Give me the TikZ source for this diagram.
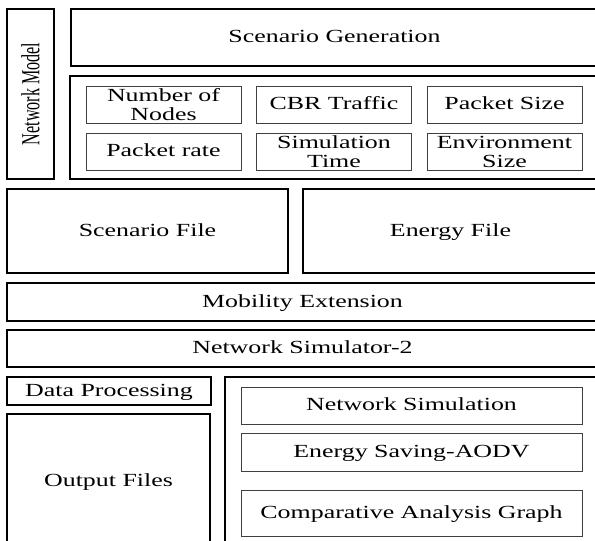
\documentclass[tikz,border=0pt]{standalone}
\usepackage{fontspec}
\setmainfont{Liberation Serif}
% wide serif used for all horizontal labels
\newfontfamily\widefont{Liberation Serif}[FakeStretch=1.4]
% narrow serif for the rotated side label
\newfontfamily\narrowfont{Liberation Serif}[FakeStretch=0.62]
\begin{document}
\begin{tikzpicture}[x=1pt,y=-1pt,
  label font/.style={font=\widefont\fontsize{18.5}{19}\selectfont, align=center},
  oneline/.style={text height=14pt, text depth=4pt},
  bigbox/.style={draw=black, line width=1.6pt, inner sep=0pt, label font, oneline},
  smallbox/.style={draw=black!75, line width=0.8pt, inner sep=0pt, label font,
    minimum width=155pt, minimum height=37pt},
  innerbox/.style={draw=black!75, line width=0.8pt, inner sep=0pt, label font, oneline,
    minimum width=341pt}]
\useasboundingbox (0,0) rectangle (595,541);
\clip (0,0) rectangle (595,541);

% network model column
\node[bigbox, minimum width=47pt, minimum height=170pt] (model) at (30.5,94) {};
\node[rotate=90, font=\narrowfont\fontsize{26}{26}\selectfont] (modeltxt) at (model.center) {Network Model};

% scenario generation and its parameters
\node[bigbox, minimum width=527pt, minimum height=57pt] (gen) at (334.5,37.5) {Scenario Generation};
\node[bigbox, minimum width=528pt, minimum height=103pt] (params) at (334,127.5) {};
\node[smallbox] (nodes) at (163.5,104.5) {Number of\\Nodes};
\node[smallbox, oneline] (cbr)   at (334,104.5)   {CBR Traffic};
\node[smallbox, oneline] (psize) at (504.5,104.5) {Packet Size};
\node[smallbox, oneline] (prate) at (163.5,151.5) {Packet rate};
\node[smallbox] (stime) at (334,151.5)   {Simulation\\Time};
\node[smallbox] (env)   at (504.5,151.5) {Environment\\Size};

% generated files
\node[bigbox, minimum width=281pt, minimum height=84pt] (scfile) at (147.5,231) {Scenario File};
\node[bigbox, minimum width=295pt, minimum height=84pt] (enfile) at (450.5,231) {Energy File};

% simulator layers
\node[bigbox, minimum width=591pt, minimum height=38pt] (mob) at (302.5,302) {Mobility Extension};
\node[bigbox, minimum width=591pt, minimum height=37pt] (ns2) at (302.5,348.5) {Network Simulator-2};

% results
\node[bigbox, minimum width=204pt, minimum height=28pt] (proc) at (109,391) {Data Processing};
\node[bigbox, minimum width=203pt, minimum height=134pt] (out) at (108.5,481) {Output Files};
\node[bigbox, minimum width=373pt, minimum height=171pt] (res) at (411.5,462.5) {};
\node[innerbox, minimum height=37pt] (sim)  at (411.5,405.5) {Network Simulation};
\node[innerbox, minimum height=38pt] (aodv) at (411.5,452)   {Energy Saving-AODV};
\node[innerbox, minimum height=46pt] (cmp)  at (411.5,513)   {Comparative Analysis Graph};
\end{tikzpicture}
\end{document}
